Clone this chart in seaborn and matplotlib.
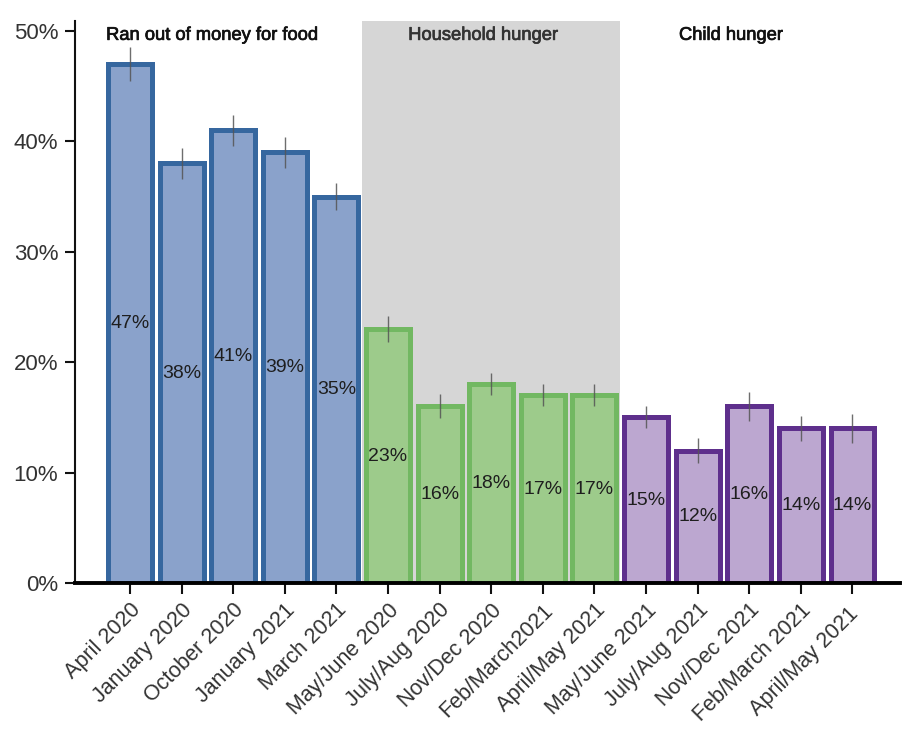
import matplotlib
matplotlib.use("Agg")
import matplotlib.pyplot as plt
import matplotlib.transforms as mtransforms
import matplotlib.patheffects as pe
import seaborn as sns
import pandas as pd

# Survey periods and the share of respondents in each (percent)
periods = ["April 2020", "January 2020", "October 2020", "January 2021", "March 2021",
           "May/June 2020", "July/Aug 2020", "Nov/Dec 2020", "Feb/March2021", "April/May 2021",
           "May/June 2021", "July/Aug 2021", "Nov/Dec 2021", "Feb/March 2021", "April/May 2021 "]
values = [47, 38, 41, 39, 35,
          23, 16, 18, 17, 17,
          15, 12, 16, 14, 14]
errors = [1.5, 1.4, 1.4, 1.4, 1.2,
          1.2, 1.1, 1.0, 1.0, 1.0,
          1.0, 1.1, 1.3, 1.1, 1.3]
groups = ["Ran out of money for food"] * 5 + ["Household hunger"] * 5 + ["Child hunger"] * 5
group_titles = ["Ran out of money for food", "Household hunger", "Child hunger"]

fill_colors = {"Ran out of money for food": "#8aa2cb",
               "Household hunger": "#9dcb8b",
               "Child hunger": "#bca7d0"}
edge_colors = {"Ran out of money for food": "#36679f",
               "Household hunger": "#72b862",
               "Child hunger": "#5e2f8c"}

df = pd.DataFrame({"period": periods, "value": values, "group": groups})

sns.set_style("ticks")
plt.rcParams["font.family"] = ["Liberation Sans", "DejaVu Sans"]

fig = plt.figure(figsize=(9.02, 7.34), dpi=100)
ax = fig.add_axes([0.0831, 0.2057, 0.9146, 0.7657])

sns.barplot(data=df, x="period", y="value", hue="period",
            palette=[fill_colors[g] for g in groups], legend=False,
            width=0.85, errorbar=None, saturation=1, ax=ax, zorder=2)

for container in ax.containers:
    for bar in container:
        i = int(round(bar.get_x() + bar.get_width() / 2))
        bar.set_edgecolor(edge_colors[groups[i]])
        bar.set_linewidth(3.6)

# shaded background behind the middle group
ax.axvspan(4.5, 9.5, color="#d6d6d6", zorder=0, lw=0)

xs = list(range(len(values)))
ax.errorbar(xs, values, yerr=errors, fmt="none", ecolor="#555555",
            elinewidth=1, alpha=0.85, zorder=4)

for i, v in enumerate(values):
    ax.text(i, v / 2, f"{v}%", ha="center", va="center", fontsize=14,
            color="#1e1e1e", zorder=5)

title_x = [1.6, 6.85, 11.65]
title_colors = ["#111111", "#333333", "#111111"]
for tx, t, c in zip(title_x, group_titles, title_colors):
    ax.text(tx, 49.6, t, ha="center", va="center", fontsize=13.2, color=c, zorder=5,
            path_effects=[pe.withStroke(linewidth=0.5, foreground=c)])

ax.set_xlim(-1.066, 14.92)
ax.set_ylim(0, 50.9)
ax.set_yticks([0, 10, 20, 30, 40, 50])
ax.set_yticklabels([f"{t}%" for t in [0, 10, 20, 30, 40, 50]], fontsize=16, color="#333333")
ax.set_xticks(xs)
ax.set_xticklabels(periods, rotation=45, ha="right", rotation_mode="anchor",
                   fontsize=15.5, color="#333333")
# nudge the slanted period labels down-left so they sit just below their ticks
shift = mtransforms.ScaledTranslation(-0.14, -0.06, fig.dpi_scale_trans)
for lbl in ax.get_xticklabels():
    lbl.set_transform(lbl.get_transform() + shift)
ax.set_xlabel("")
ax.set_ylabel("")

sns.despine(ax=ax, top=True, right=True)
ax.spines["left"].set_linewidth(1.5)
ax.spines["left"].set_color("#111111")
ax.spines["bottom"].set_linewidth(2.8)
ax.spines["bottom"].set_color("#000000")
ax.spines["left"].set_zorder(6)
ax.spines["bottom"].set_zorder(6)
ax.tick_params(axis="y", length=7, width=1.5, pad=5, color="#111111")
ax.tick_params(axis="x", length=8, width=1.5, pad=4, color="#111111")
ax.set_facecolor("white")

fig.savefig("out.png", dpi=100)
